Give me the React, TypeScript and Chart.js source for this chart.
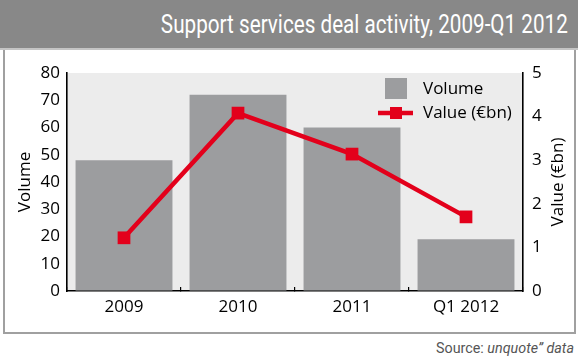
import React, { useEffect, useLayoutEffect, useRef } from "react";
import { Chart, registerables } from "chart.js";

Chart.register(...registerables);

const categories = ["2009", "2010", "2011", "Q1 2012"];
const volumeValues = [48, 72, 60, 19];
const valueBn = [1.22, 4.08, 3.14, 1.7];
const volumeTicks = { min: 0, max: 80, step: 10 };
const valueTicks = { min: 0, max: 5, step: 1 };

const TITLE = "Support services deal activity, 2009-Q1 2012";
const BAR_COLOR = "#9c9d9f";
const RED = "#e3001b";
const PLOT_BG = "#ececec";
const FONT = "'Open Sans', 'DejaVu Sans', sans-serif";
const FS = 17;

function FitText({ target, style, children }: { target: number; style: React.CSSProperties; children: React.ReactNode }) {
  const ref = useRef<HTMLSpanElement | null>(null);
  useLayoutEffect(() => {
    const el = ref.current;
    if (!el) return;
    el.style.transform = "none";
    const w = el.getBoundingClientRect().width;
    if (w > 0) el.style.transform = `scaleX(${target / w})`;
  });
  return (
    <span ref={ref} style={{ position: "absolute", whiteSpace: "nowrap", transformOrigin: "right center", ...style }}>
      {children}
    </span>
  );
}

export default function App() {
  const canvasRef = useRef<HTMLCanvasElement | null>(null);

  useEffect(() => {
    if (!canvasRef.current) return;

    const bgPlugin = {
      id: "plotBg",
      beforeDraw(chart: any) {
        const { ctx, chartArea: a } = chart;
        ctx.save();
        ctx.fillStyle = PLOT_BG;
        ctx.fillRect(a.left, a.top, a.right - a.left, a.bottom - a.top);
        ctx.restore();
      },
    };

    const overlayPlugin = {
      id: "overlay",
      afterDraw(chart: any) {
        const { ctx, chartArea: a } = chart;
        ctx.save();
        ctx.font = `${FS}px ${FONT}`;
        ctx.fillStyle = "#000";
        ctx.textBaseline = "middle";
        ctx.textAlign = "center";
        const cy = (a.top + a.bottom) / 2;
        // axis titles
        ctx.save();
        ctx.translate(25, cy);
        ctx.rotate(-Math.PI / 2);
        ctx.fillText("Volume", 0, 0);
        ctx.restore();
        ctx.save();
        ctx.translate(a.right + 35, cy);
        ctx.rotate(-Math.PI / 2);
        ctx.fillText("Value (€bn)", 0, 0);
        ctx.restore();

        // legend
        const lx = a.right - 138;
        ctx.fillStyle = BAR_COLOR;
        ctx.fillRect(lx, a.top + 5, 22, 21);
        ctx.strokeStyle = RED;
        ctx.lineWidth = 4.5;
        ctx.beginPath();
        ctx.moveTo(lx - 7, a.top + 40);
        ctx.lineTo(lx + 28, a.top + 40);
        ctx.stroke();
        ctx.fillStyle = RED;
        ctx.fillRect(lx + 5, a.top + 34, 12, 12);
        ctx.fillStyle = "#000";
        ctx.textAlign = "left";
        ctx.fillText("Volume", lx + 38, a.top + 16);
        ctx.fillText("Value (€bn)", lx + 38, a.top + 40);
        ctx.restore();
      },
    };

    const chart = new Chart(canvasRef.current, {
      type: "bar",
      data: {
        labels: categories,
        datasets: [
          {
            type: "line",
            label: "Value (€bn)",
            data: valueBn,
            yAxisID: "y2",
            borderColor: RED,
            backgroundColor: RED,
            borderWidth: 4.5,
            pointStyle: "rect",
            pointRadius: 9,
            pointHoverRadius: 9,
            pointBorderWidth: 0,
            pointBackgroundColor: RED,
            tension: 0,
            order: 0,
          } as any,
          {
            type: "bar",
            label: "Volume",
            data: volumeValues,
            yAxisID: "y",
            backgroundColor: BAR_COLOR,
            borderWidth: 0,
            barPercentage: 0.85,
            categoryPercentage: 1,
            order: 1,
          } as any,
        ],
      },
      options: {
        animation: false,
        responsive: false,
        maintainAspectRatio: false,
        layout: { padding: { top: 73, bottom: 37, left: 0, right: 0 } },
        plugins: { legend: { display: false }, tooltip: { enabled: false }, title: { display: false } },
        scales: {
          x: {
            type: "category",
            offset: true,
            grid: {
              offset: true,
              drawOnChartArea: false,
              drawTicks: true,
              tickLength: -4,
              color: "#000",
              lineWidth: 1.2,
            },
            border: { display: true, color: "#000", width: 1.6 },
            ticks: { color: "#000", font: { family: FONT, size: FS }, padding: 10, maxRotation: 0 },
            afterFit: (s: any) => {
              s.height = 30;
            },
          },
          y: {
            position: "left",
            min: volumeTicks.min,
            max: volumeTicks.max,
            grid: { drawOnChartArea: false, drawTicks: false },
            border: { display: true, color: "#000", width: 1.6 },
            ticks: { stepSize: volumeTicks.step, color: "#000", font: { family: FONT, size: FS }, padding: 7 },
            afterFit: (s: any) => {
              s.width = 67;
            },
          },
          y2: {
            position: "right",
            min: valueTicks.min,
            max: valueTicks.max,
            grid: { drawOnChartArea: false, drawTicks: false },
            border: { display: true, color: "#000", width: 1.6 },
            ticks: { stepSize: valueTicks.step, color: "#000", font: { family: FONT, size: FS }, padding: 9 },
            afterFit: (s: any) => {
              s.width = 57;
            },
          },
        },
      } as any,
      plugins: [bgPlugin, overlayPlugin],
    });

    return () => chart.destroy();
  }, []);

  return (
    <div style={{ position: "absolute", left: 0, top: 0, width: 580, height: 358, background: "#fff", overflow: "hidden" }}>
      <div style={{ position: "absolute", left: 0, top: 0, width: 578, height: 50, background: "#888888", borderBottom: "2px solid #c4c4c4", boxSizing: "border-box" }} />
      <div style={{ position: "absolute", left: 3, top: 50, width: 573, height: 284, border: "2px solid #a0a0a0", borderTop: "none", boxSizing: "border-box" }} />
      <FitText target={407} style={{ right: 12, top: 12, fontFamily: "Roboto, sans-serif", fontSize: 25, lineHeight: "25px", color: "#fff" }}>
        {TITLE}
      </FitText>
      <FitText target={138} style={{ right: 6, top: 341, fontFamily: "Roboto, sans-serif", fontSize: 14, lineHeight: "14px", color: "#555" }}>
        Source: <i>unquote” data</i>
      </FitText>
      <canvas ref={canvasRef} width={580} height={358} style={{ position: "absolute", left: 0, top: 0, width: 580, height: 358 }} />
    </div>
  );
}
